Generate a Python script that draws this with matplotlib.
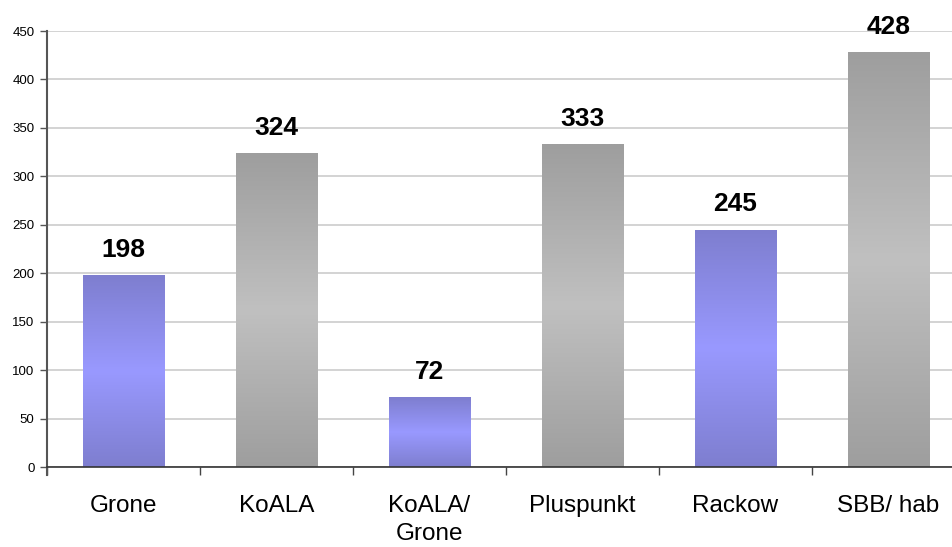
import numpy as np
import matplotlib.pyplot as plt
from matplotlib.colors import LinearSegmentedColormap

plt.rcParams['font.family'] = ['Liberation Sans', 'DejaVu Sans']

categories = ['Grone', 'KoALA', 'KoALA/\nGrone', 'Pluspunkt', 'Rackow', 'SBB/ hab']
values = [198, 324, 72, 333, 245, 428]
groups = ['purple', 'gray', 'purple', 'gray', 'purple', 'gray']

# gradient: dark at the ends, light in the middle
cmaps = {
    'purple': LinearSegmentedColormap.from_list('p', ['#7e7ecf', '#9999ff', '#7e7ecf']),
    'gray': LinearSegmentedColormap.from_list('g', ['#9e9e9e', '#c0c0c0', '#9e9e9e']),
}

fig = plt.figure(figsize=(9.53, 5.47), dpi=100)
ax = fig.add_axes([47 / 953, 80 / 547, 918 / 953, 436 / 547])

x = np.arange(len(categories))
width = 0.53
grad = np.linspace(0, 1, 256).reshape(-1, 1)

for xi, v, g in zip(x, values, groups):
    bar = ax.bar(xi, v, width=width, color='none', edgecolor='none', zorder=2)[0]
    im = ax.imshow(grad, cmap=cmaps[g], aspect='auto', origin='lower',
                   extent=[xi - width / 2, xi + width / 2, 0, v], zorder=2)
    im.set_clip_path(bar)
    ax.text(xi, v + 14, str(v), ha='center', va='bottom', fontsize=19,
            fontweight='bold', zorder=3)

ax.set_xlim(-0.5, len(categories) - 0.5)
ax.set_ylim(0, 450)
ax.set_yticks(np.arange(0, 451, 50))
ax.yaxis.grid(True, color='#cccccc', linewidth=1.2, zorder=0)
ax.set_axisbelow(True)

ax.set_xticks(x)
ax.set_xticklabels(categories, fontsize=17.5, linespacing=1.35)
ax.set_xticks(np.arange(-0.5, len(categories), 1), minor=True)
ax.tick_params(axis='x', which='major', length=0, pad=20)
ax.tick_params(axis='x', which='minor', length=6, width=1, color='#444444', direction='out')
ax.tick_params(axis='y', labelsize=9.5, length=5, width=1, color='#555555', pad=4)

for s in ['top', 'right']:
    ax.spines[s].set_visible(False)
ax.spines['left'].set_color('#555555')
ax.spines['left'].set_linewidth(1.5)
ax.spines['bottom'].set_color('#333333')
ax.spines['bottom'].set_linewidth(1.2)
ax.spines['left'].set_bounds(-8, 450)

fig.savefig('out.png', dpi=100)
